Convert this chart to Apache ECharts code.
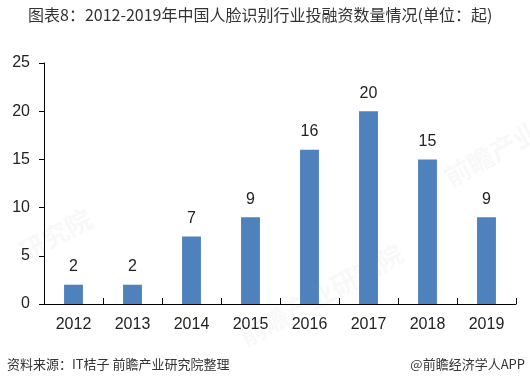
<!DOCTYPE html>
<html><head><meta charset="utf-8">
<script src="https://cdn.jsdelivr.net/npm/echarts@6/dist/echarts.min.js"></script>
<style>html,body{margin:0;padding:0;background:#fff}#c{width:530px;height:386px}</style>
</head><body><div id="c"></div>
<script>
const categories = ['2012','2013','2014','2015','2016','2017','2018','2019'];
const values = [2,2,7,9,16,20,15,9];
const yTicks = [0,5,10,15,20,25];
const titleText = '图表8：2012-2019年中国人脸识别行业投融资数量情况(单位：起)';
const sourceText = '资料来源：IT桔子 前瞻产业研究院整理';
const brandText = '@前瞻经济学人APP';

const chart = echarts.init(document.getElementById('c'));
const font = '"Liberation Sans", Arial, sans-serif';
chart.setOption({
  animation: false,
  backgroundColor: '#fff',
  graphic: [
    {type:'text', left: 28, top: 7, style:{text: titleText, font: '16px "Noto Sans CJK SC", sans-serif', fill:'#333'}},
    {type:'text', left: 7, top: 358, style:{text: sourceText, font: '13px "Noto Sans CJK SC", sans-serif', fill:'#333'}},
    {type:'text', right: 5, top: 358, style:{text: brandText, font: '13px "Noto Sans CJK SC", sans-serif', fill:'#333'}},
    {type:'text', left: 15, top: 205, rotation: 0.5, style:{text: '研究院', font: 'bold 26px "Noto Sans CJK SC", sans-serif', fill:'rgba(200,200,200,0.12)'}},
    {type:'text', left: 235, top: 240, rotation: 0.5, style:{text: '前瞻产业研究院', font: 'bold 26px "Noto Sans CJK SC", sans-serif', fill:'rgba(200,200,200,0.12)'}},
    {type:'text', left: 440, top: 105, rotation: 0.5, style:{text: '前瞻产业研', font: 'bold 26px "Noto Sans CJK SC", sans-serif', fill:'rgba(200,200,200,0.12)'}}
  ],
  grid: {left: 44, right: 14, top: 63, bottom: 82, containLabel: false},
  xAxis: {
    type: 'category', data: categories,
    axisLine: {show: true, lineStyle: {color: '#000', width: 1}},
    axisTick: {show: true, inside: true, length: 6, alignWithLabel: false, lineStyle:{color:'#000'}},
    axisLabel: {color: '#222', fontSize: 16, fontFamily: font, margin: 13}
  },
  yAxis: {
    type: 'value', min: yTicks[0], max: yTicks[yTicks.length-1], interval: 5,
    axisLine: {show: true, lineStyle: {color: '#000', width: 1}},
    axisTick: {show: true, length: 5, lineStyle:{color:'#000'}},
    splitLine: {show: false},
    axisLabel: {color: '#222', fontSize: 16, fontFamily: font, margin: 14}
  },
  series: [{
    type: 'bar', data: values, barWidth: '32%',
    itemStyle: {color: '#4f81bd'},
    label: {show: true, position: 'top', distance: 10, color: '#222', fontSize: 16, fontFamily: font}
  }]
});
</script></body></html>
